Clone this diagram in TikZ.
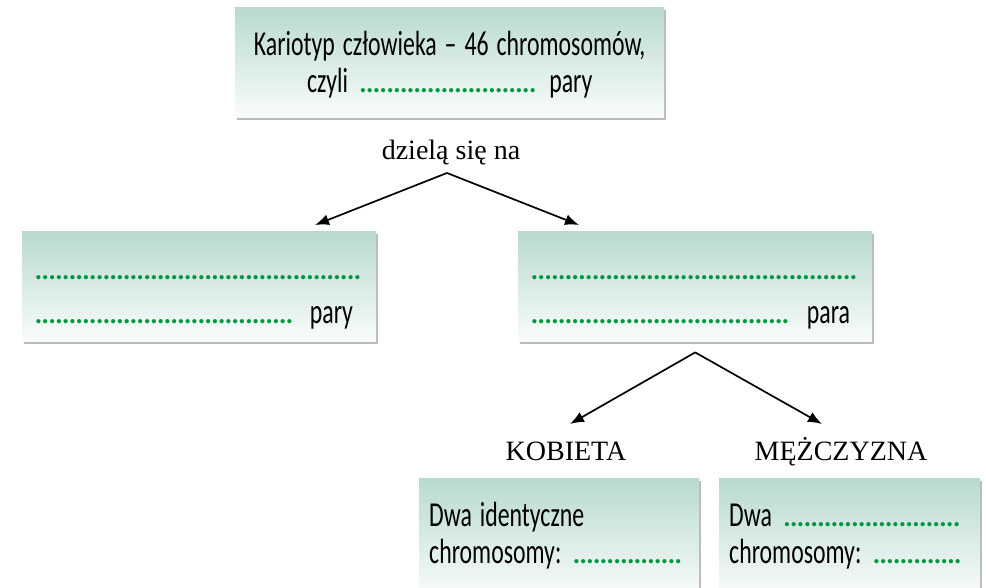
\documentclass[tikz,border=0pt]{standalone}
\usepackage{fontspec}
\usepackage{graphicx}
\setmainfont{Liberation Serif}
\newfontfamily\pudelko{Carlito}
\newfontfamily\opis{Liberation Serif}
\usepackage{tikz}
\usetikzlibrary{arrows.meta,positioning,shadows}
\definecolor{zielen}{RGB}{184,218,206}
\definecolor{biel}{RGB}{249,252,251}
\definecolor{kropka}{RGB}{0,150,64}
\newcommand{\kropki}[1]{\textcolor{kropka}{\hbox to #1{\leaders\hbox to 6.8pt{\hss.\hss}\hfill}}}
\newcommand{\waska}[1]{\scalebox{0.68}[1]{#1}}
\tikzstyle{kratka}=[
	rectangle,
	top color=zielen,
	bottom color=biel,
	drop shadow={shadow xshift=2pt,shadow yshift=-3pt,fill=black!45,opacity=0.6},
	inner ysep=0pt,
	anchor=north west,
	align=left,
	font=\pudelko\fontsize{35}{37}\selectfont]
\tikzstyle{szeroka}=[
	kratka,
	font=\pudelko\fontsize{35}{44}\selectfont]
\tikzstyle{etykieta}=[
	anchor=base,
	inner sep=0pt,
	font=\opis\fontsize{28}{32}\selectfont]
\tikzstyle{strzalka}=[
	->,
	line width=1.7pt]

\begin{document}
\begin{tikzpicture}[x=1pt,y=-1pt,>={Latex[length=14pt,width=11pt]}]
	\useasboundingbox (0,0) rectangle (986,588);
	\clip (0,0) rectangle (986,588);
	% pudelka
	\node[kratka,align=center,inner xsep=10pt,text width=409pt,minimum height=110pt] (kariotyp) at (235,7)
		{\strut\rule{0pt}{34pt}\waska{Kariotyp człowieka – 46 chromosomów,}\\ \strut\waska{czyli} \kropki{178pt} \waska{pary}};
	\node[szeroka,inner xsep=13pt,text width=328pt,minimum height=110pt] (autosomy) at (22,231)
		{\strut\rule{0pt}{43pt}\kropki{327pt}\\ \strut\kropki{263pt} \waska{pary}};
	\node[szeroka,inner xsep=13pt,text width=328pt,minimum height=110pt] (plciowe) at (518,231)
		{\strut\rule{0pt}{43pt}\kropki{327pt}\\ \strut\kropki{264pt} \waska{para}};
	\node[kratka,inner xsep=10pt,text width=260pt,minimum height=118pt] (xx) at (419,478)
		{\strut\waska{Dwa identyczne}\\ \strut\waska{chromosomy:} \kropki{114pt}};
	\node[kratka,inner xsep=10pt,text width=241pt,minimum height=118pt] (xy) at (719,478)
		{\strut\waska{Dwa} \kropki{177pt}\\ \strut\waska{chromosomy:} \kropki{90pt}};
	% opisy
	\node[etykieta] (dziela) at (451,160) {dzielą się na};
	\node[etykieta] (kobieta) at (566,460) {KOBIETA};
	\node[etykieta] (mezczyzna) at (841,460) {MĘŻCZYZNA};
	% strzalki
	\coordinate (podzial1) at (447,173);
	\coordinate (cel1) at (315,225);
	\coordinate (cel2) at (579,225);
	\coordinate (podzial2) at ([yshift=-11pt]plciowe.south);
	\coordinate (cel3) at (570,424);
	\coordinate (cel4) at (822,424);
	\draw[strzalka] (podzial1) -- (cel1);
	\draw[strzalka] (podzial1) -- (cel2);
	\draw[strzalka] (podzial2) -- (cel3);
	\draw[strzalka] (podzial2) -- (cel4);
\end{tikzpicture}
\end{document}
